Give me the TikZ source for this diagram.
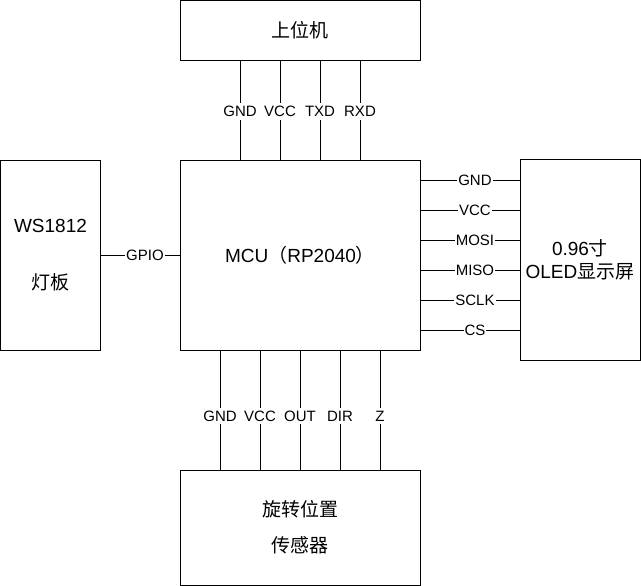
\documentclass[tikz,border=0pt]{standalone}
\usepackage{fontspec}
\setmainfont{Liberation Sans}
\newfontfamily\cjk{Noto Sans CJK SC}
\begin{document}
\begin{tikzpicture}[x=1pt,y=-1pt,
  box/.style={draw=black,line width=1pt,fill=white,align=center,inner sep=0pt},
  boxfont/.style={font=\fontsize{19pt}{#1}\selectfont},
  lbl/.style={fill=white,inner xsep=1pt,inner ysep=3pt,font=\fontsize{15pt}{18pt}\selectfont},
  wire/.style={line width=0.9pt,draw=black}]
\useasboundingbox (0,0) rectangle (641,586);
% boxes
\node[box,boxfont=23pt,minimum width=240pt,minimum height=60pt] (pc) at (300,30.5) {\cjk 上位机};
\node[box,boxfont=23pt,minimum width=240pt,minimum height=190pt] (mcu) at (300,255.5) {MCU{\cjk（}RP2040{\cjk）}};
\node[box,boxfont=57pt,minimum width=100pt,minimum height=190pt] (ws) at (50.5,255.5) {WS1812\\{\cjk 灯板}};
\node[box,boxfont=23pt,minimum width=120pt,minimum height=200pt] (oled) at (580,260) {0.96{\cjk 寸}\\OLED{\cjk 显示屏}};
\node[box,boxfont=36pt,minimum width=240pt,minimum height=115pt] (sen) at (300,527.5) {{\cjk 旋转位置}\\{\cjk 传感器}};
% top wires
\foreach \dx/\t in {-60/GND,-20/VCC,20/TXD,60/RXD}
  \draw[wire] ([xshift=\dx pt]pc.south) -- node[lbl,pos=.51]{\t} ([xshift=\dx pt]mcu.north);
% bottom wires
\foreach \dx/\t in {-80/GND,-40/VCC,0/OUT,40/DIR,80/Z}
  \draw[wire] ([xshift=\dx pt]mcu.south) -- node[lbl,pos=.55]{\t} ([xshift=\dx pt]sen.north);
% right wires
\foreach \dy/\n/\t in {75/1/GND,45/2/VCC,15/3/MOSI,-15/4/MISO,-45/5/SCLK,-75/6/CS}{
  \coordinate (r\n) at ([yshift=\dy pt]mcu.east);
  \draw[wire] (r\n) -- node[lbl,pos=.55]{\t} (r\n -| oled.west);
}
% GPIO
\draw[wire] (ws.east) -- node[lbl,pos=.56]{GPIO} (mcu.west);
\end{tikzpicture}
\end{document}
